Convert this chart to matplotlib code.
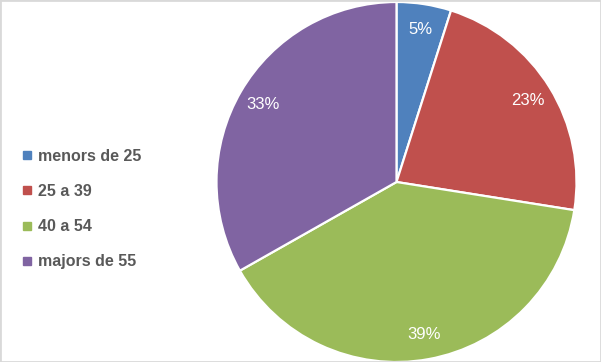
import matplotlib
matplotlib.use("Agg")
import matplotlib.pyplot as plt
from matplotlib.lines import Line2D
from matplotlib.patches import Rectangle

categories = ["menors de 25", "25 a 39", "40 a 54", "majors de 55"]
values = [4.9, 22.6, 39.3, 33.2]
colors = ["#4F81BD", "#C0504D", "#9BBB59", "#8064A2"]

fig = plt.figure(figsize=(6.01, 3.62), dpi=100)
ax = fig.add_axes([216.5/601, 0.0, 360/601, 360/362])
wedges, texts, autotexts = ax.pie(values, colors=colors, startangle=90, counterclock=False,
                                  autopct=lambda p: f"{p:.0f}%", pctdistance=0.86,
                                  wedgeprops=dict(edgecolor="white", linewidth=1.6),
                                  textprops=dict(color="white", fontsize=12, family="Liberation Sans"))
ax.set_xlim(-1, 1)
ax.set_ylim(-1, 1)
ax.set_aspect("equal")
ax.axis("off")

handles = [Line2D([0], [0], marker="s", linestyle="none", markersize=5.5,
                  markerfacecolor=c, markeredgecolor=c) for c in colors]
leg = fig.legend(handles, categories, loc="center left", bbox_to_anchor=(0.013, 0.4227),
                 frameon=False, handlelength=0.6, handletextpad=0.4, labelspacing=1.27,
                 prop=dict(family="Liberation Sans", weight="bold", size=11.5))
for t in leg.get_texts():
    t.set_color("#595959")

fig.patches.append(Rectangle((0, 0), 1, 1, transform=fig.transFigure, fill=False,
                             edgecolor="#d9d9d9", linewidth=2.0))
fig.savefig("out.png", dpi=100)
